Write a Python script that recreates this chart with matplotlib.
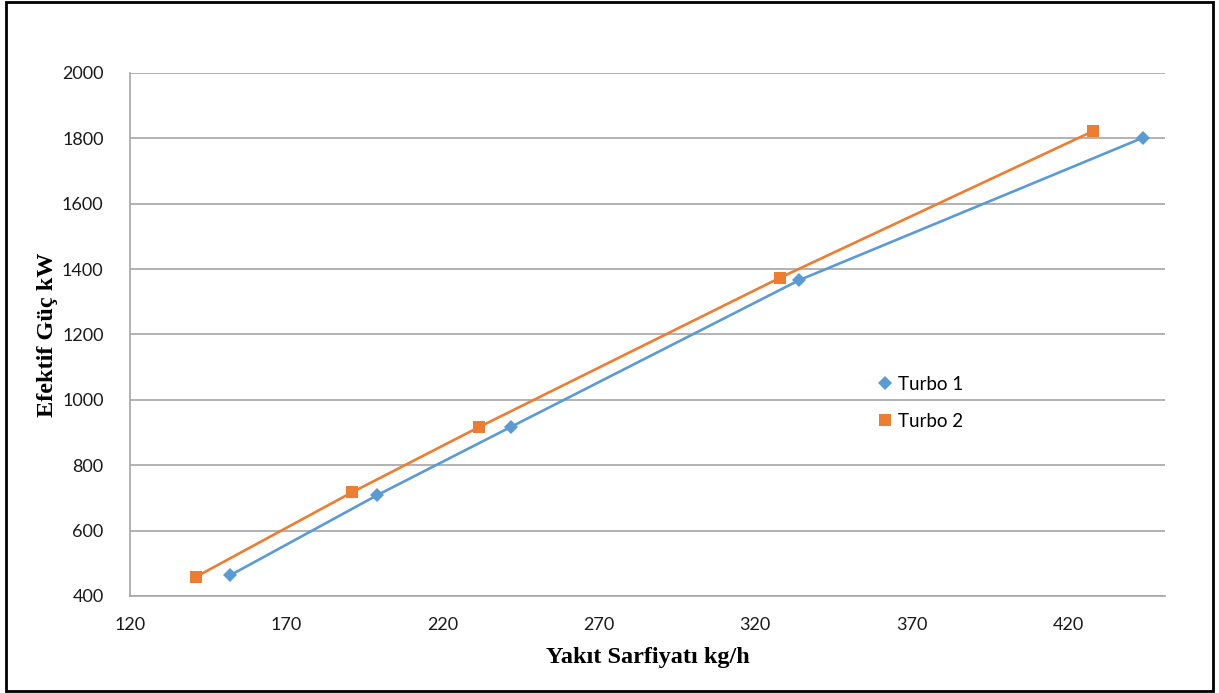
import numpy as np
import matplotlib.pyplot as plt
from matplotlib.patches import Rectangle

# fuel consumption (kg/h) vs effective power (kW)
turbo1_x = [152, 199, 242, 334, 444]
turbo1_y = [463, 708, 918, 1366, 1802]
turbo2_x = [141, 191, 231.5, 328, 428]
turbo2_y = [458, 717, 916, 1374, 1822]

x_ticks = [120, 170, 220, 270, 320, 370, 420]
y_ticks = [400, 600, 800, 1000, 1200, 1400, 1600, 1800, 2000]

blue = '#5b9bd5'
orange = '#ed7d31'
grid_c = '#a6a6a6'

plt.rcParams['font.family'] = ['Lato', 'DejaVu Sans']

fig = plt.figure(figsize=(12.19, 6.93), dpi=100)
ax = fig.add_axes([0.1066, 0.140, 0.849, 0.7547])

ax.plot(turbo1_x, turbo1_y, color=blue, lw=1.9, marker='D', ms=7,
        markeredgewidth=0, label='Turbo 1', zorder=3)
ax.plot(turbo2_x, turbo2_y, color=orange, lw=1.9, marker='s', ms=9,
        markeredgewidth=0, label='Turbo 2', zorder=3)

ax.set_xlim(120, 451)
ax.set_ylim(400, 2000)
ax.set_xticks(x_ticks)
ax.set_yticks(y_ticks)
ax.tick_params(length=0, labelsize=13, colors='#1a1a1a')
ax.tick_params(axis='y', pad=19)
ax.tick_params(axis='x', pad=15)
ax.grid(axis='y', color=grid_c, lw=1.2)
ax.set_axisbelow(True)
for s in ['top', 'right']:
    ax.spines[s].set_visible(False)
for s in ['left', 'bottom']:
    ax.spines[s].set_color(grid_c)
    ax.spines[s].set_linewidth(1.2)

ax.set_xlabel('Yakıt Sarfiyatı kg/h', family='Liberation Serif',
              fontweight='bold', fontsize=17.5, labelpad=10)
ax.set_ylabel('Efektif Güç kW', family='Liberation Serif',
              fontweight='bold', fontsize=17.5, labelpad=3)

leg = ax.legend(loc='upper left', bbox_to_anchor=(0.706, 0.453), frameon=False,
                fontsize=13.5, handlelength=0.8, handletextpad=0.3,
                labelspacing=1.05)
for h in leg.legend_handles:
    h.set_linestyle('None')

# black outer frame
fig.patches.append(Rectangle((0.005, 0.003), 0.99, 0.994, transform=fig.transFigure,
                             fill=False, edgecolor='black', lw=2))

fig.savefig('out.png', dpi=100)
